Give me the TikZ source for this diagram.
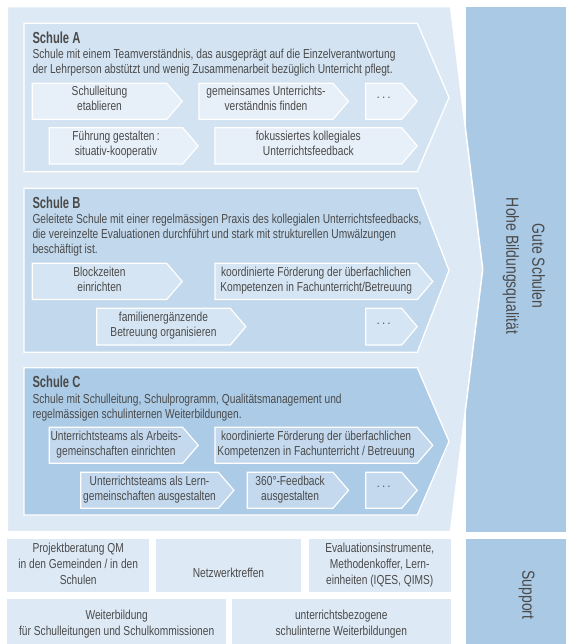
\documentclass[tikz,border=0pt]{standalone}
\usepackage{fontspec}
\setmainfont[FakeStretch=0.785]{Liberation Sans}
\newfontfamily\titlefont[FakeStretch=0.7]{Liberation Sans}
\newfontfamily\sidefont[FakeStretch=0.8]{Liberation Sans}
\definecolor{bgL}{HTML}{DDE9F5}
\definecolor{pA}{HTML}{D3E3F2}
\definecolor{boxA}{HTML}{E7EFF8}
\definecolor{pB}{HTML}{C2D8EC}
\definecolor{boxB}{HTML}{D6E5F3}
\definecolor{pC}{HTML}{ACCBE6}
\definecolor{boxC}{HTML}{C4D9EE}
\definecolor{rightP}{HTML}{AAC9E5}
\definecolor{txt}{HTML}{4A4A4A}
\newcommand{\twol}[2]{\strut #1\\\strut #2}
\newcommand{\threel}[3]{\strut #1\\\strut #2\\\strut #3}
\newcommand{\abox}[7]{%
  \path[fill=#6, draw=white, line width=1.2pt] (#2,#4) -- (#3,#4) -- ({#3+15.5},{(#4+#5)/2}) -- (#3,#5) -- (#2,#5) -- cycle;
  \node[boxtext] (#1) at ({(#2+#3)/2},{(#4+#5)/2-0.8}) {#7};}
\newcommand{\dbox}[6]{%
  \path[fill=#6, draw=white, line width=1.2pt] (#2,#4) -- (#3,#4) -- ({#3+15.5},{(#4+#5)/2}) -- (#3,#5) -- (#2,#5) -- cycle;
  \node[body, anchor=base, inner sep=0] (#1) at ({(#2+#3)/2},{(#4+#5)/2-2.5}) {.\hspace{2.5pt}.\hspace{2.5pt}.};}
\newcommand{\panel}[3]{%
  \path[fill=#3, draw=white, line width=1.3pt] (24,#1) -- (417.3,#1) -- (449,{(#1+#2)/2}) -- (417.3,#2) -- (24,#2) -- cycle;}
\begin{document}
\begin{tikzpicture}[x=1pt, y=-1pt,
  body/.style={font=\fontsize{13}{15}\selectfont, text=txt},
  boxtext/.style={body, align=center, inner sep=0},
  tline/.style={body, anchor=base west, inner sep=0},
  ttl/.style={font=\titlefont\bfseries\fontsize{16}{18}\selectfont, text=txt, anchor=base west, inner sep=0},
  sidetext/.style={font=\sidefont\fontsize{17.5}{20}\selectfont, text=txt, rotate=-90, inner sep=0},
  botbox/.style={fill=bgL, draw=none},
  bottext/.style={font=\fontsize{13}{15.7}\selectfont, text=txt, align=center, inner sep=0}]
\useasboundingbox (0,0) rectangle (566,644);
% right panels
\path[fill=rightP] (466,6.7) rectangle (566,531.7);
\path[fill=rightP] (466,539.3) rectangle (566,644);
% big background shape
\path[fill=bgL, draw=white, line width=1.5pt] (7.3,6.7) -- (450.5,6.7) -- (482.7,269.2) -- (450.5,531.7) -- (7.3,531.7) -- cycle;
% side texts
\node[sidetext] (gute) at (538.5,266) {Gute Schulen};
\node[sidetext] (hohe) at (511,266) {Hohe Bildungsqualität};
\node[sidetext] (support) at (526.7,595) {Support};
% bottom boxes
\path[botbox] (7.3,539.3) rectangle (149,591.7);
\path[botbox] (156,539.3) rectangle (301,591.7);
\path[botbox] (309,539.3) rectangle (450.5,591.7);
\path[botbox] (7.3,599) rectangle (226,644);
\path[botbox] (232,599) rectangle (450.5,644);
\node[bottext] (proj) at (78.2,565.5) {\threel{Projektberatung QM}{in den Gemeinden / in den}{Schulen}};
\node[bottext] (netz) at (228.5,574) {\strut Netzwerktreffen};
\node[bottext] (eval) at (379.7,565.5) {\threel{Evaluationsinstrumente,}{Methodenkoffer, Lern-}{einheiten (IQES, QIMS)}};
\node[bottext] (weiter) at (116.7,624.5) {\twol{Weiterbildung}{für Schulleitungen und Schulkommissionen}};
\node[bottext] (unter) at (341.3,624.5) {\twol{unterrichtsbezogene}{schulinterne Weiterbildungen}};
% Schule A
\panel{23.3}{171.7}{pA}
\node[ttl] (tA) at (32.3,43.3) {Schule A};
\node[tline] (dA1) at (32.3,58.8) {Schule mit einem Teamverständnis, das ausgeprägt auf die Einzelverantwortung};
\node[tline] (dA2) at (32.3,73.8) {der Lehrperson abstützt und wenig Zusammenarbeit bezüglich Unterricht pflegt.};
\abox{a1}{32.3}{166.7}{83.3}{119.3}{boxA}{\twol{Schulleitung}{etablieren}}
\abox{a2}{199}{333}{83.3}{119.3}{boxA}{\twol{gemeinsames Unterrichts-}{verständnis finden}}
\dbox{a3}{365.7}{401.7}{83.3}{119.3}{boxA}
\abox{a4}{49.3}{182.7}{127.7}{164}{boxA}{\twol{Führung gestalten\,:}{situativ-kooperativ}}
\abox{a5}{215}{401.7}{127.7}{164}{boxA}{\twol{fokussiertes kollegiales}{Unterrichtsfeedback}}
% Schule B
\panel{188.3}{352.3}{pB}
\node[ttl] (tB) at (32.3,208.3) {Schule B};
\node[tline] (dB1) at (32.3,223.8) {Geleitete Schule mit einer regelmässigen Praxis des kollegialen Unterrichtsfeedbacks,};
\node[tline] (dB2) at (32.3,238.8) {die vereinzelte Evaluationen durchführt und stark mit strukturellen Umwälzungen};
\node[tline] (dB3) at (32.3,253.8) {beschäftigt ist.};
\abox{b1}{32.3}{166.7}{263.3}{299.5}{boxB}{\twol{Blockzeiten}{einrichten}}
\abox{b2}{215}{417.3}{263.3}{299.5}{boxB}{\twol{koordinierte Förderung der überfachlichen}{Kompetenzen in Fachunterricht/Betreuung}}
\abox{b3}{96.7}{230.3}{308.3}{345}{boxB}{\twol{familienergänzende}{Betreuung organisieren}}
\dbox{b4}{365.7}{401.7}{308.3}{345}{boxB}
% Schule C
\panel{367.7}{515}{pC}
\node[ttl] (tC) at (32.3,387.7) {Schule C};
\node[tline] (dC1) at (32.3,403.2) {Schule mit Schulleitung, Schulprogramm, Qualitätsmanagement und};
\node[tline] (dC2) at (32.3,418.2) {regelmässigen schulinternen Weiterbildungen.};
\abox{c1}{49.3}{182.7}{427.3}{463.3}{boxC}{\twol{Unterrichtsteams als Arbeits-}{gemeinschaften einrichten}}
\abox{c2}{215}{417.3}{427.3}{463.3}{boxC}{\twol{koordinierte Förderung der überfachlichen}{Kompetenzen in Fachunterricht / Betreuung}}
\abox{c3}{80.7}{218.4}{472.3}{508.3}{boxC}{\twol{Unterrichtsteams als Lern-}{gemeinschaften ausgestalten}}
\abox{c4}{247.3}{333}{472.3}{508.3}{boxC}{\twol{360°-Feedback}{ausgestalten}}
\dbox{c5}{365.7}{401.7}{472.3}{508.3}{boxC}
\end{tikzpicture}
\end{document}
